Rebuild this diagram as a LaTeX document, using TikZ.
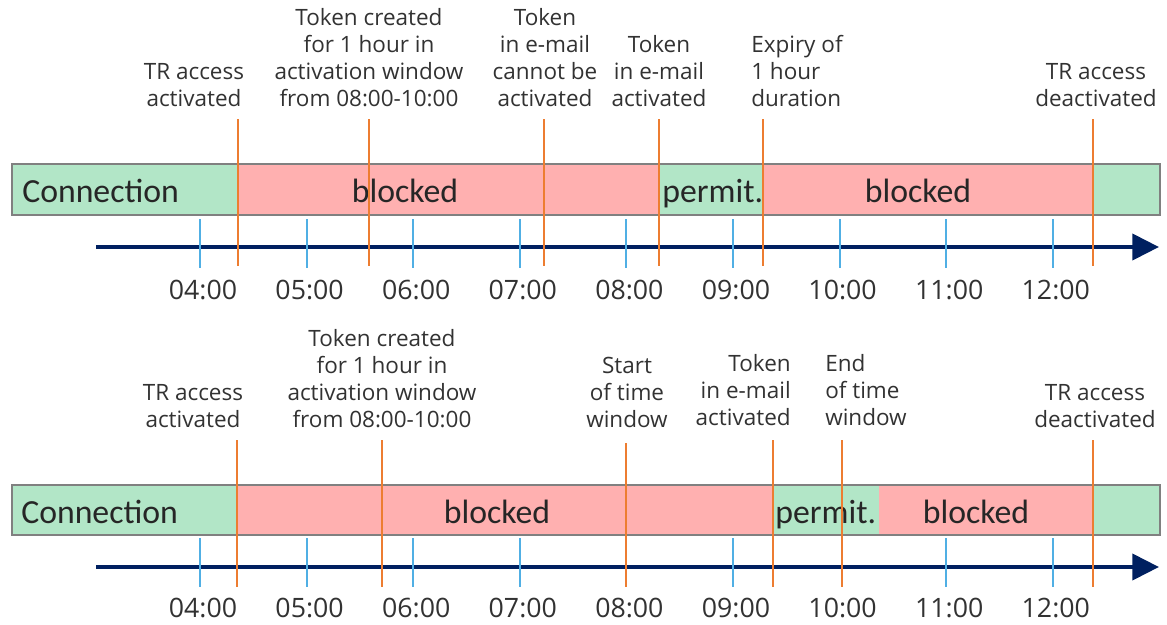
\documentclass[tikz,border=0pt]{standalone}
\usepackage{fontspec}
\setmainfont{Open Sans}
\newfontfamily\barfamily{Carlito}
\usepackage{xcolor}
\usetikzlibrary{arrows.meta}

\definecolor{okgreen}{RGB}{178,230,199}
\definecolor{blockred}{RGB}{255,176,176}
\definecolor{markorange}{RGB}{237,125,49}
\definecolor{tickblue}{RGB}{80,175,228}
\definecolor{axisnavy}{RGB}{0,32,96}
\definecolor{labelgray}{RGB}{50,50,50}

\newcommand{\barfont}{\barfamily\fontsize{24}{28}\selectfont}
\newcommand{\eventfont}{\fontsize{16}{19.2}\selectfont}

\begin{document}
\begin{tikzpicture}[x=0.025cm,y=-0.025cm,
  event/.style={font=\eventfont,text=labelgray,align=center,anchor=south,inner sep=0pt,text depth=0pt},
  hour/.style={font=\fontsize{19}{22}\selectfont,text=labelgray,anchor=base,inner sep=0pt,text depth=0pt},
  state/.style={font=\barfont,text=black!85,inner sep=0pt,anchor=base},
  marker/.style={draw=markorange,line width=1.6pt},
  hourtick/.style={draw=tickblue,line width=1.4pt},
  timeaxis/.style={draw=axisnavy,line width=2.9pt,-{Triangle[length=19pt,width=18.5pt]}},
  barframe/.style={draw=black!50,line width=1.2pt}]
  \useasboundingbox (0,0) rectangle (1167,625);

  % ---- upper timeline: token valid for 1 hour ----
  \fill[okgreen]   (12,164) rectangle (238,215);
  \fill[blockred]  (238,164) rectangle (660,215);
  \fill[okgreen]   (660,164) rectangle (763,215);
  \fill[blockred]  (763,164) rectangle (1093,215);
  \fill[okgreen]   (1093,164) rectangle (1160,215);
  \draw[barframe]  (12,164) rectangle (1160,215);

  \node[state,anchor=base west] (conA) at (22,202) {Connection};
  \node[state] (blkA1) at (405,202) {blocked};
  \node[state,anchor=base west] (perA) at (662,202) {permit.};
  \node[state] (blkA2) at (918,202) {blocked};

  \coordinate (axA0) at (96,247);
  \coordinate (axA1) at (1159,247);
  \draw[timeaxis] (axA0) -- (axA1);

  \foreach \h [count=\i from 0] in {04,05,06,07,08,09,10,11,12} {
    \coordinate (tA\h) at ({200+106.6*\i},219);
    \draw[hourtick] (tA\h) -- ++(0,49);
    \node[hour] (hA\h) at ({203+106.6*\i},299) {\h:00};
  }

  \node[event] (evA1) at (194,107) {TR access\\activated};
  \node[event] (evA2) at (369,107) {Token created\\for 1 hour in\\activation window\\from 08:00-10:00};
  \node[event] (evA3) at (545,107) {Token\\in e-mail\\cannot be\\activated};
  \node[event] (evA4) at (659,107) {Token\\in e-mail\\activated};
  \node[event,align=left,anchor=south west] (evA5) at (751,107) {Expiry of\\1 hour\\duration};
  \node[event] (evA6) at (1096,107) {TR access\\deactivated};

  \foreach \x/\n in {238/1,369/2,544/3,659/4,763/5,1093/6} {
    \coordinate (mA\n) at (\x,119);
    \coordinate (nA\n) at (\x,266);
    \draw[marker] (mA\n) -- (nA\n);
  }

  % ---- lower timeline: activation inside the time window ----
  \fill[okgreen]   (12,485) rectangle (237,535);
  \fill[blockred]  (237,485) rectangle (773,535);
  \fill[okgreen]   (773,485) rectangle (879,535);
  \fill[blockred]  (879,485) rectangle (1093,535);
  \fill[okgreen]   (1093,485) rectangle (1160,535);
  \draw[barframe]  (12,485) rectangle (1160,535);

  \node[state,anchor=base west] (conB) at (21,523) {Connection};
  \node[state] (blkB1) at (497,523) {blocked};
  \node[state,anchor=base west] (perB) at (775,523) {permit.};
  \node[state] (blkB2) at (976,523) {blocked};

  \coordinate (axB0) at (96,567);
  \coordinate (axB1) at (1159,567);
  \draw[timeaxis] (axB0) -- (axB1);

  \foreach \h [count=\i from 0] in {04,05,06,07,08,09,10,11,12} {
    \node[hour] (hB\h) at ({203+106.6*\i},617) {\h:00};
  }
  % no blue tick where the window markers sit (08:00, 10:00)
  \foreach \h/\i in {04/0,05/1,06/2,07/3,09/5,11/7,12/8} {
    \coordinate (tB\h) at ({200+106.6*\i},538);
    \draw[hourtick] (tB\h) -- ++(0,49);
  }

  \node[event] (evB1) at (193,428) {TR access\\activated};
  \node[event] (evB2) at (382,428) {Token created\\for 1 hour in\\activation window\\from 08:00-10:00};
  \node[event] (evB3) at (627,428) {Start\\of time\\window};
  \node[event,align=right,anchor=south east] (evB4) at (791,426) {Token\\in e-mail\\activated};
  \node[event,align=left,anchor=south west] (evB5) at (825,426) {End\\of time\\window};
  \node[event] (evB6) at (1095,428) {TR access\\deactivated};

  \foreach \x/\n/\y in {237/1/440,382/2/440,626/3/443,773/4/440,842/5/440,1093/6/440} {
    \coordinate (mB\n) at (\x,\y);
    \coordinate (nB\n) at (\x,587);
    \draw[marker] (mB\n) -- (nB\n);
  }
\end{tikzpicture}
\end{document}
